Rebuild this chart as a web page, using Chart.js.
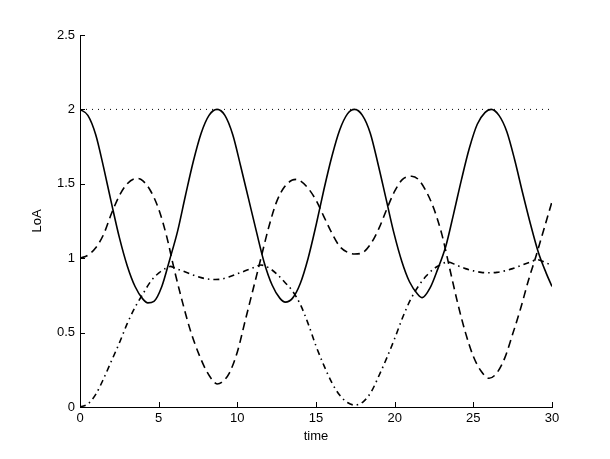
<!DOCTYPE html>
<html>
<head>
<meta charset="utf-8">
<script src="https://cdn.jsdelivr.net/npm/chart.js@4/dist/chart.umd.min.js"></script>
<style>
  html, body { margin: 0; padding: 0; background: #fff; }
  #wrap { width: 610px; height: 459px; }
</style>
</head>
<body>
<div id="wrap"><canvas id="chart" width="610" height="459"></canvas></div>
<script>
// values
const solidT = [0, 0.5, 1, 1.5, 2, 2.5, 3, 3.5, 4, 4.31, 4.7, 5.2, 5.7, 6.2, 6.7, 7.2, 7.7, 8.2, 8.71,
  9.21, 9.71, 10.21, 10.71, 11.21, 11.71, 12.21, 12.71, 13.05, 13.5, 14, 14.5, 15, 15.5, 16, 16.5, 17, 17.45,
  17.95, 18.45, 18.95, 19.45, 19.95, 20.45, 20.95, 21.45, 21.75, 22.25, 22.75, 23.25, 23.75, 24.25, 24.75, 25.25, 25.75, 26.13,
  26.63, 27.13, 27.63, 28.13, 28.63, 29.13, 29.63, 30];
const solidV = [2.0, 1.96, 1.83, 1.61, 1.37, 1.14, 0.95, 0.81, 0.725, 0.70, 0.71, 0.81, 0.99, 1.18, 1.42, 1.65, 1.84, 1.96, 2.0,
  1.96, 1.83, 1.62, 1.40, 1.18, 0.97, 0.82, 0.73, 0.705, 0.73, 0.83, 1.0, 1.22, 1.46, 1.68, 1.86, 1.97, 2.0,
  1.96, 1.84, 1.63, 1.40, 1.17, 0.98, 0.84, 0.76, 0.735, 0.80, 0.93, 1.08, 1.30, 1.53, 1.74, 1.90, 1.98, 2.0,
  1.96, 1.85, 1.66, 1.44, 1.23, 1.04, 0.90, 0.81];

const dashT = [0, 0.5, 1, 1.5, 2, 2.5, 3, 3.5, 3.67, 4, 4.5, 5, 5.5, 6, 6.5, 7, 7.5, 8, 8.5, 8.71,
  9, 9.5, 10, 10.5, 11, 11.5, 12, 12.5, 13, 13.5, 13.75, 14, 14.5, 15, 15.5, 16, 16.5, 17, 17.45,
  18, 18.5, 19, 19.5, 20, 20.5, 21.08, 21.5, 22, 22.5, 23, 23.5, 24, 24.5, 25, 25.5, 26,
  26.5, 27, 27.5, 28, 28.5, 29, 29.5, 30];
const dashV = [1.0, 1.02, 1.07, 1.16, 1.30, 1.42, 1.50, 1.535, 1.536, 1.52, 1.45, 1.33, 1.15, 0.92, 0.71, 0.52, 0.37, 0.25, 0.17, 0.155,
  0.165, 0.23, 0.37, 0.58, 0.79, 1.0, 1.21, 1.38, 1.48, 1.525, 1.53, 1.52, 1.47, 1.39, 1.28, 1.17, 1.08, 1.04, 1.028,
  1.04, 1.10, 1.20, 1.33, 1.45, 1.53, 1.551, 1.53, 1.45, 1.33, 1.16, 0.93, 0.70, 0.50, 0.34, 0.24, 0.193,
  0.23, 0.33, 0.49, 0.66, 0.85, 1.02, 1.20, 1.38];

const dashDotT = [0, 0.5, 1, 1.5, 2, 2.5, 3, 3.5, 4, 4.5, 5, 5.5, 5.75, 6, 6.5, 7, 7.5, 8, 8.6,
  9, 9.5, 10, 10.5, 11, 11.5, 12, 12.5, 13, 13.5, 14, 14.5, 15, 15.5, 16, 16.5, 17, 17.45,
  18, 18.5, 19, 19.5, 20, 20.5, 21, 21.5, 22, 22.5, 23, 23.35, 24, 24.5, 25, 25.5, 26.1,
  26.5, 27, 27.5, 28, 28.5, 29.1, 29.5, 30];
const dashDotV = [0, 0.02, 0.085, 0.19, 0.31, 0.43, 0.56, 0.67, 0.76, 0.845, 0.90, 0.935, 0.945, 0.935, 0.915, 0.895, 0.875, 0.862, 0.857,
  0.86, 0.875, 0.895, 0.915, 0.935, 0.954, 0.935, 0.895, 0.84, 0.78, 0.69, 0.56, 0.41, 0.28, 0.165, 0.08, 0.03, 0.013,
  0.035, 0.10, 0.21, 0.33, 0.46, 0.60, 0.72, 0.81, 0.88, 0.93, 0.96, 0.975, 0.95, 0.93, 0.915, 0.905, 0.902,
  0.905, 0.915, 0.93, 0.95, 0.97, 0.99, 0.975, 0.95];

const dotT = [0, 30];
const dotV = [2, 2];

const xTicks = [0, 5, 10, 15, 20, 25, 30];
const yTicks = [0, 0.5, 1, 1.5, 2, 2.5];

const pts = (t, v) => t.map((x, i) => ({ x, y: v[i] }));

// matlab style: short tick marks pointing into the plot
const innerTicks = {
  id: 'innerTicks',
  afterDraw(chart) {
    const { ctx, scales: { x, y } } = chart;
    ctx.save();
    ctx.strokeStyle = '#000';
    ctx.lineWidth = 1;
    ctx.beginPath();
    xTicks.forEach(v => {
      const px = Math.round(x.getPixelForValue(v)) + 0.5;
      ctx.moveTo(px, y.bottom);
      ctx.lineTo(px, y.bottom - 5);
    });
    yTicks.forEach(v => {
      const py = Math.round(y.getPixelForValue(v)) + 0.5;
      ctx.moveTo(x.left, py);
      ctx.lineTo(x.left + 5, py);
    });
    ctx.stroke();
    ctx.restore();
  }
};

const line = (data, dash, width) => ({
  data,
  borderColor: '#000',
  borderWidth: width,
  borderDash: dash,
  pointRadius: 0,
  fill: false,
  cubicInterpolationMode: 'monotone'
});

const font = { family: 'Liberation Sans, Arial, sans-serif', size: 13 };

new Chart(document.getElementById('chart'), {
  type: 'line',
  data: {
    datasets: [
      line(pts(dotT, dotV), [1, 5], 1),
      line(pts(solidT, solidV), [], 1.6),
      line(pts(dashT, dashV), [8, 5], 1.6),
      line(pts(dashDotT, dashDotV), [6, 4, 1.5, 4], 1.6)
    ]
  },
  options: {
    responsive: false,
    animation: false,
    layout: { padding: { left: 26, top: 35, right: 58, bottom: 11 } },
    plugins: { legend: { display: false }, tooltip: { enabled: false } },
    scales: {
      x: {
        type: 'linear',
        min: 0,
        max: 30,
        afterBuildTicks: s => { s.ticks = xTicks.map(value => ({ value })); },
        afterFit: s => { s.height = 41; },
        grid: { display: false, drawTicks: false },
        border: { display: true, color: '#000', width: 1 },
        ticks: { color: '#000', font, padding: 4, maxRotation: 0, callback: v => String(v) },
        title: { display: true, text: 'time', color: '#000', font, padding: { top: 0, bottom: 4 } }
      },
      y: {
        type: 'linear',
        min: 0,
        max: 2.5,
        afterBuildTicks: s => { s.ticks = yTicks.map(value => ({ value })); },
        afterFit: s => { s.width = 54; },
        grid: { display: false, drawTicks: false },
        border: { display: true, color: '#000', width: 1 },
        ticks: { color: '#000', font, padding: 5, callback: v => String(v) },
        title: { display: true, text: 'LoA', color: '#000', font, padding: { top: 4, bottom: 0 } }
      }
    }
  },
  plugins: [innerTicks]
});
</script>
</body>
</html>
